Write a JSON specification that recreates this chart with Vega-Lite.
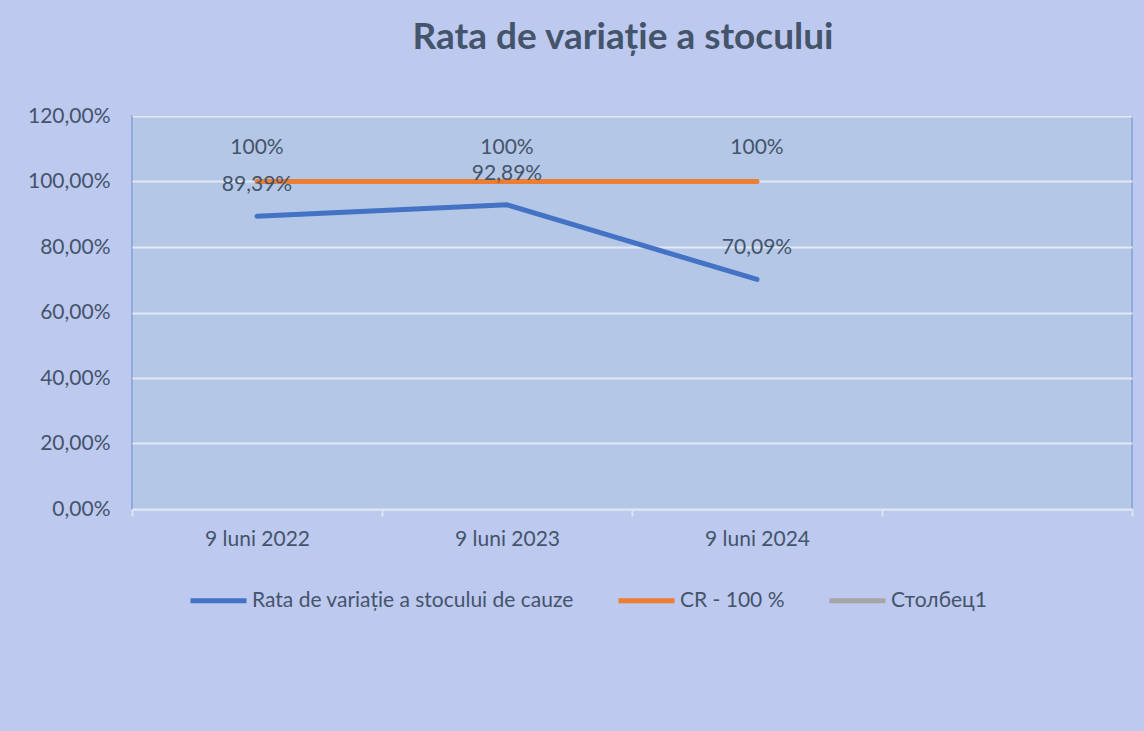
{
  "$schema": "https://vega.github.io/schema/vega-lite/v6.json",
  "width": 1000,
  "height": 393,
  "autosize": {"type": "none"},
  "padding": {"left": 132, "top": 116, "right": 12, "bottom": 222},
  "background": "#bdc9ef",
  "config": {
    "locale": {"number": {"decimal": ",", "thousands": ".", "grouping": [3], "currency": ["", " lei"]}},
    "font": "Lato",
    "view": {"fill": "#b4c7e7", "stroke": "#8eaadb", "strokeWidth": 2}
  },
  "title": {
    "text": "Rata de variație a stocului",
    "fontSize": 37,
    "fontWeight": "bold",
    "color": "#44546a",
    "font": "Lato",
    "anchor": "middle",
    "offset": 48,
    "dx": -9
  },
  "data": {
    "values": [
      {"series": "Rata de variație a stocului de cauze", "period": "9 luni 2022", "value": 0.8939},
      {"series": "Rata de variație a stocului de cauze", "period": "9 luni 2023", "value": 0.9289},
      {"series": "Rata de variație a stocului de cauze", "period": "9 luni 2024", "value": 0.7009},
      {"series": "CR - 100 %", "period": "9 luni 2022", "value": 1.0},
      {"series": "CR - 100 %", "period": "9 luni 2023", "value": 1.0},
      {"series": "CR - 100 %", "period": "9 luni 2024", "value": 1.0}
    ]
  },
  "encoding": {
    "x": {
      "field": "period",
      "type": "nominal",
      "sort": null,
      "scale": {"type": "band", "domain": ["9 luni 2022", "9 luni 2023", "9 luni 2024", ""], "paddingInner": 0, "paddingOuter": 0},
      "axis": {
        "title": null,
        "labelAngle": 0,
        "labelFontSize": 21,
        "labelColor": "#44546a",
        "labelPadding": 12,
        "tickBand": "extent",
        "ticks": true,
        "tickSize": 7,
        "tickColor": "#dde5f3",
        "tickWidth": 2,
        "domainColor": "#dde5f3",
        "domainWidth": 2,
        "grid": false
      }
    },
    "y": {
      "field": "value",
      "type": "quantitative",
      "scale": {"domain": [0, 1.2], "nice": false},
      "axis": {
        "title": null,
        "values": [0, 0.2, 0.4, 0.6, 0.8, 1.0, 1.2],
        "format": ".2%",
        "labelFontSize": 21,
        "labelColor": "#44546a",
        "labelPadding": 22,
        "ticks": false,
        "tickSize": 0,
        "domain": false,
        "grid": true,
        "gridColor": "#e3e9f4",
        "gridWidth": 2
      }
    }
  },
  "layer": [
    {
      "mark": {"type": "line", "strokeWidth": 5, "strokeCap": "round", "strokeJoin": "round"},
      "encoding": {
        "color": {
          "field": "series",
          "type": "nominal",
          "scale": {
            "domain": ["Rata de variație a stocului de cauze", "CR - 100 %", "Столбец1"],
            "range": ["#4472c4", "#ed7d31", "#a5a5a5"]
          },
          "legend": {
            "title": null,
            "orient": "none",
            "direction": "horizontal",
            "legendX": 56,
            "legendY": 454,
            "symbolType": "stroke",
            "symbolSize": 3136,
            "symbolStrokeWidth": 5,
            "labelFontSize": 21,
            "labelColor": "#44546a",
            "labelLimit": 500,
            "labelOffset": 3,
            "columnPadding": 34
          }
        }
      }
    },
    {
      "transform": [{"filter": "datum.series === 'CR - 100 %'"}],
      "mark": {"type": "text", "dy": -34, "fontSize": 21, "color": "#44546a"},
      "encoding": {"text": {"field": "value", "type": "quantitative", "format": ".0%"}}
    },
    {
      "transform": [{"filter": "datum.series !== 'CR - 100 %'"}],
      "mark": {"type": "text", "dy": -31, "fontSize": 21, "color": "#44546a"},
      "encoding": {"text": {"field": "value", "type": "quantitative", "format": ".2%"}}
    }
  ]
}
